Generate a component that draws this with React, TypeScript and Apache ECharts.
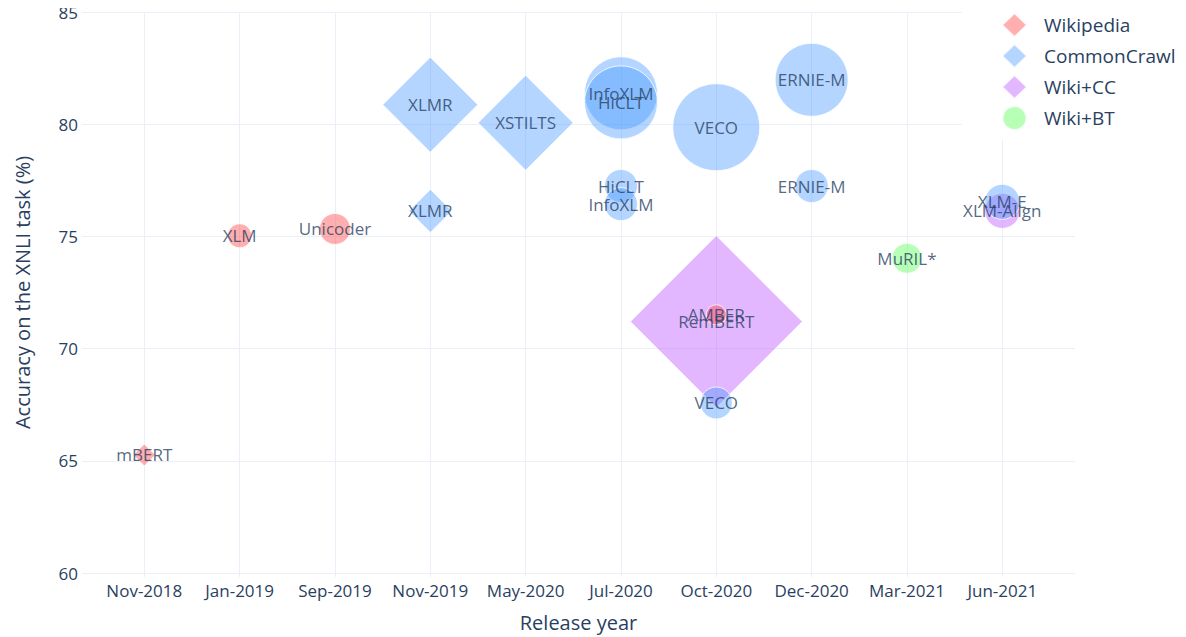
import React, { useEffect, useRef } from "react";
import * as echarts from "echarts";

// ---- data ----
const categories = [
  "Nov-2018", "Jan-2019", "Sep-2019", "Nov-2019", "May-2020",
  "Jul-2020", "Oct-2020", "Dec-2020", "Mar-2021", "Jun-2021",
];
const yTicks = [60, 65, 70, 75, 80, 85];

// Wikipedia
const wikiNames = ["mBERT", "XLM", "Unicoder", "AMBER"];
const wikiRelease = ["Nov-2018", "Jan-2019", "Sep-2019", "Oct-2020"];
const wikiAcc = [65.4, 75.1, 75.4, 71.6];
const wikiBubble = [22, 24, 31, 20];
const wikiShape = ["diamond", "circle", "circle", "circle"];

// CommonCrawl
const ccNames = [
  "XLMR", "XLMR", "XSTILTS", "InfoXLM", "HiCLT", "HiCLT", "InfoXLM",
  "VECO", "VECO", "ERNIE-M", "ERNIE-M", "XLM-E",
];
const ccRelease = [
  "Nov-2019", "Nov-2019", "May-2020", "Jul-2020", "Jul-2020", "Jul-2020", "Jul-2020",
  "Oct-2020", "Oct-2020", "Dec-2020", "Dec-2020", "Jun-2021",
];
const ccAcc = [80.9, 76.2, 80.1, 81.4, 81.0, 77.3, 76.5, 79.9, 67.7, 82.0, 77.3, 76.6];
const ccBubble = [95, 43, 95, 73, 73, 33, 33, 87, 32, 73, 33, 35];
const ccShape = [
  "diamond", "diamond", "diamond", "circle", "circle", "circle", "circle",
  "circle", "circle", "circle", "circle", "circle",
];

// Wiki+CC
const wcNames = ["RemBERT", "XLM-Align"];
const wcRelease = ["Oct-2020", "Jun-2021"];
const wcAcc = [71.3, 76.2];
const wcBubble = [172, 35];
const wcShape = ["diamond", "circle"];

// Wiki+BT
const wbNames = ["MuRIL*"];
const wbRelease = ["Mar-2021"];
const wbAcc = [74.1];
const wbBubble = [30];
const wbShape = ["circle"];

const TEXT = "#2a3f5f";
const GRID = "#EBF0F8";
const FONT = "'Open Sans', verdana, arial, sans-serif";

function buildPoints(names: string[], rel: string[], acc: number[], bub: number[], shape: string[]) {
  return names.map((n, i) => ({
    name: n,
    value: [categories.indexOf(rel[i]), acc[i], bub[i]],
    symbol: shape[i],
  }));
}

function mkSeries(name: string, color: string, pts: any[]) {
  return {
    name,
    type: "scatter",
    xAxisIndex: 1,
    yAxisIndex: 1,
    data: pts,
    symbolSize: (v: number[]) => v[2],
    itemStyle: { color, borderColor: "#ffffff", borderWidth: 1 },
    label: {
      show: true,
      position: "inside",
      formatter: (p: any) => p.name,
      color: TEXT,
      fontSize: 17,
      fontFamily: FONT,
    },
    emphasis: { disabled: true },
  };
}

export default function App() {
  const ref = useRef<HTMLDivElement>(null);
  useEffect(() => {
    if (!ref.current) return;
    const chart = echarts.init(ref.current, null, { renderer: "svg" });
    const colors = {
      wiki: "rgba(255,55,55,0.5)",
      cc: "rgba(65,150,255,0.5)",
      wc: "rgba(185,75,255,0.5)",
      wb: "rgba(75,255,75,0.5)",
    };
    const top = 12;
    const bottom = 60;
    chart.setOption({
      animation: false,
      backgroundColor: "#ffffff",
      textStyle: { fontFamily: FONT },
      grid: [
        { left: 82, right: 111, top, bottom },
        { left: 144.3, right: 1186 - 1002.3, top, bottom },
      ],
      xAxis: [
        {
          gridIndex: 0,
          type: "value",
          min: 0,
          max: 1,
          axisLine: { show: false },
          axisTick: { show: false },
          axisLabel: { show: false },
          splitLine: { show: false },
          name: "Release year",
          nameLocation: "middle",
          nameGap: 39,
          nameTextStyle: { color: TEXT, fontSize: 20, fontFamily: FONT },
        },
        {
          gridIndex: 1,
          type: "value",
          min: 0,
          max: categories.length - 1,
          interval: 1,
          axisLine: { show: false },
          axisTick: { show: false },
          axisLabel: {
            color: TEXT,
            fontSize: 17,
            fontFamily: FONT,
            margin: 5,
            formatter: (v: number) => categories[v] ?? "",
          },
          splitLine: { show: true, lineStyle: { color: GRID, width: 1 } },
        },
      ],
      yAxis: [
        {
          gridIndex: 0,
          type: "value",
          min: yTicks[0],
          max: yTicks[yTicks.length - 1],
          interval: 5,
          axisLine: { show: false },
          axisTick: { show: false },
          axisLabel: { color: TEXT, fontSize: 17, fontFamily: FONT, margin: 4 },
          splitLine: { show: true, lineStyle: { color: GRID, width: 1 } },
          name: "Accuracy on the XNLI task (%)",
          nameLocation: "middle",
          nameGap: 50,
          nameRotate: 90,
          nameTextStyle: { color: TEXT, fontSize: 20, fontFamily: FONT },
        },
        {
          gridIndex: 1,
          type: "value",
          min: yTicks[0],
          max: yTicks[yTicks.length - 1],
          show: false,
          splitLine: { show: false },
        },
      ],
      legend: {
        orient: "vertical",
        left: 962,
        top: 0,
        padding: [12, 12, 8, 39],
        backgroundColor: "#ffffff",
        itemWidth: 25,
        itemHeight: 24,
        itemGap: 5,
        selectedMode: false,
        textStyle: { color: TEXT, fontSize: 19, fontFamily: FONT, padding: [0, 0, 0, 12] },
        data: [
          { name: "Wikipedia", icon: "diamond" },
          { name: "CommonCrawl", icon: "diamond" },
          { name: "Wiki+CC", icon: "diamond" },
          { name: "Wiki+BT", icon: "circle" },
        ],
      },
      series: [
        mkSeries("Wiki+CC", colors.wc, buildPoints(wcNames, wcRelease, wcAcc, wcBubble, wcShape)),
        mkSeries("CommonCrawl", colors.cc, buildPoints(ccNames, ccRelease, ccAcc, ccBubble, ccShape)),
        mkSeries("Wikipedia", colors.wiki, buildPoints(wikiNames, wikiRelease, wikiAcc, wikiBubble, wikiShape)),
        mkSeries("Wiki+BT", colors.wb, buildPoints(wbNames, wbRelease, wbAcc, wbBubble, wbShape)),
      ],
    });
    return () => chart.dispose();
  }, []);
  return <div ref={ref} style={{ width: 1186, height: 637, marginLeft: -8, marginTop: -8 }} />;
}
